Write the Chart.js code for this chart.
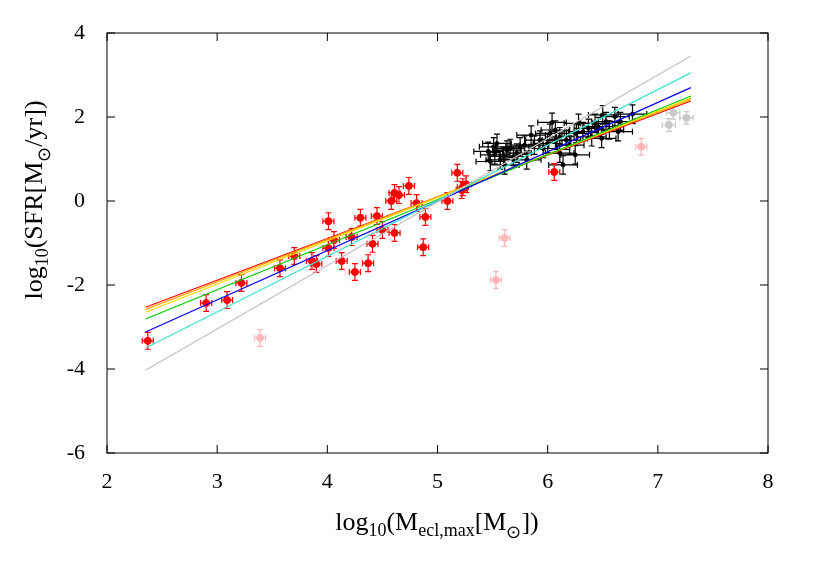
<!DOCTYPE html>
<html>
<head>
<meta charset="utf-8">
<script src="https://cdn.jsdelivr.net/npm/chart.js@4/dist/chart.umd.min.js"></script>
<style>body{margin:0;background:#fff}</style>
</head>
<body>
<canvas id="c" width="817" height="572"></canvas>
<script>
// red clusters (x, y)
const redX = [2.37,2.90,3.09,3.22,3.57,3.70,3.86,3.90,4.01,4.01,4.06,4.13,4.22,4.25,4.30,4.37,4.41,4.45,4.50,4.58,4.61,4.65,4.61,4.74,4.81,4.87,4.89,5.09,5.18,5.22,5.26,5.23,6.06];
const redY = [-3.33,-2.43,-2.36,-1.95,-1.60,-1.31,-1.43,-1.50,-0.48,-1.12,-0.93,-1.43,-0.86,-1.69,-0.40,-1.48,-1.02,-0.36,-0.69,0.00,0.19,0.14,-0.76,0.36,-0.05,-1.10,-0.38,0.00,0.67,0.26,0.40,0.33,0.69];
const pinkX = [3.39,5.61,5.53,6.85];
const pinkY = [-3.26,-0.88,-1.88,1.29];
const grayX = [7.14,7.10,7.26];
const grayY = [2.10,1.81,1.98];
const blackX = [5.46,5.48,5.51,5.52,5.54,5.57,5.60,5.61,5.63,5.66,5.69,5.72,5.75,5.79,5.81,5.85,5.88,5.93,5.96,6.00,6.02,6.04,6.07,6.08,6.11,6.11,6.14,6.17,6.20,6.25,6.26,6.28,6.32,6.37,6.40,6.43,6.46,6.49,6.50,6.53,6.56,6.61,6.64,6.66,6.77];
const blackY = [1.18,0.94,1.29,1.10,1.37,0.98,1.06,0.86,1.21,1.25,1.06,1.14,1.29,1.33,0.98,1.57,1.33,1.45,1.25,1.37,1.61,1.87,1.69,1.45,1.53,1.14,0.86,1.45,1.33,1.10,1.61,1.85,1.65,1.73,1.53,1.85,1.77,1.49,2.05,1.89,1.69,2.01,1.65,1.89,2.07];

// fit lines: [x0, y0, x1, y1]
const fitColors = ['#c0c0c0','#40e0d0','#0000ff','#00cc00','#ffd700','#ffa500','#ff0000'];
const fitY0 = [-4.03,-3.50,-3.12,-2.81,-2.65,-2.58,-2.53];
const fitY1 = [3.45,3.05,2.70,2.50,2.45,2.42,2.38];
const fitX = [2.35,7.30];

const xTicks = [2,3,4,5,6,7,8];
const yTicks = [-6,-4,-2,0,2,4];

function pts(xs, ys){ return xs.map((x,i)=>({x:x,y:ys[i]})); }

const datasets = fitColors.map((c,i)=>({
  type:'line', data:[{x:fitX[0],y:fitY0[i]},{x:fitX[1],y:fitY1[i]}],
  borderColor:c, borderWidth:1.2, pointRadius:0, fill:false
}));
datasets.push({data:pts(grayX,grayY), backgroundColor:'#c8c8c8', borderColor:'#c8c8c8', pointRadius:3.5, xErr:0.06, yErr:0.15});
datasets.push({data:pts(pinkX,pinkY), backgroundColor:'#ffb6b6', borderColor:'#ffb6b6', pointRadius:3.5, xErr:0.05, yErr:0.2});
datasets.push({data:pts(blackX,blackY), backgroundColor:'#000', borderColor:'#000', pointRadius:2, xErr:0.13, yErr:0.22});
datasets.push({data:pts(redX,redY), backgroundColor:'#ff0000', borderColor:'#ff0000', pointRadius:3.5, xErr:0.05, yErr:0.2});

const errorBars = {
  id:'errorBars',
  beforeDatasetsDraw(chart){
    const ctx = chart.ctx, xs = chart.scales.x, ys = chart.scales.y;
    chart.data.datasets.forEach(ds=>{
      if (!ds.xErr) return;
      ctx.save();
      ctx.strokeStyle = ds.borderColor; ctx.lineWidth = 1.2;
      ds.data.forEach(p=>{
        const px = xs.getPixelForValue(p.x), py = ys.getPixelForValue(p.y);
        const l = xs.getPixelForValue(p.x-ds.xErr), r = xs.getPixelForValue(p.x+ds.xErr);
        const t = ys.getPixelForValue(p.y+ds.yErr), b = ys.getPixelForValue(p.y-ds.yErr);
        ctx.beginPath();
        ctx.moveTo(l,py); ctx.lineTo(r,py);
        ctx.moveTo(l,py-3); ctx.lineTo(l,py+3);
        ctx.moveTo(r,py-3); ctx.lineTo(r,py+3);
        ctx.moveTo(px,t); ctx.lineTo(px,b);
        ctx.moveTo(px-3,t); ctx.lineTo(px+3,t);
        ctx.moveTo(px-3,b); ctx.lineTo(px+3,b);
        ctx.stroke();
      });
      ctx.restore();
    });
  }
};

const frame = {
  id:'frame',
  afterDraw(chart){
    const ctx = chart.ctx, a = chart.chartArea, xs = chart.scales.x, ys = chart.scales.y;
    ctx.save();
    ctx.strokeStyle = '#000'; ctx.lineWidth = 1;
    ctx.strokeRect(a.left, a.top, a.right-a.left, a.bottom-a.top);
    ctx.beginPath();
    xTicks.forEach(v=>{
      const p = xs.getPixelForValue(v);
      ctx.moveTo(p,a.bottom); ctx.lineTo(p,a.bottom-8);
      ctx.moveTo(p,a.top); ctx.lineTo(p,a.top+8);
    });
    yTicks.forEach(v=>{
      const p = ys.getPixelForValue(v);
      ctx.moveTo(a.left,p); ctx.lineTo(a.left+8,p);
      ctx.moveTo(a.right,p); ctx.lineTo(a.right-8,p);
    });
    ctx.stroke();
    // axis titles with subscripts
    ctx.fillStyle = '#000';
    ctx.textBaseline = 'alphabetic';
    const big = '26px', small = '18px';
    function fontFor(k){ return (k ? small : big) + ' "Liberation Serif", serif'; }
    function width(parts){
      let w = 0;
      parts.forEach(([s,k])=>{ ctx.font = fontFor(k); w += ctx.measureText(s).width; });
      return w;
    }
    function rich(parts, x, y){
      parts.forEach(([s,k])=>{
        ctx.font = fontFor(k);
        ctx.fillText(s, x, y + (k===1 ? 6 : (k===2 ? 8 : 0)));
        x += ctx.measureText(s).width;
      });
    }
    const xParts = [['log',0],['10',1],['(M',0],['ecl,max',1],['[M',0],['\u2299',2],['])',0]];
    rich(xParts, 437 - width(xParts)/2, 530);
    const yParts = [['log',0],['10',1],['(SFR[M',0],['\u2299',2],['/yr])',0]];
    ctx.translate(42, 200);
    ctx.rotate(-Math.PI/2);
    rich(yParts, -width(yParts)/2, 0);
    ctx.restore();
  }
};

new Chart(document.getElementById('c'), {
  type:'scatter',
  data:{datasets:datasets},
  options:{
    responsive:false, animation:false,
    layout:{padding:{top:33,right:49,left:0,bottom:0}},
    plugins:{legend:{display:false},tooltip:{enabled:false}},
    scales:{
      x:{min:2,max:8,afterBuildTicks:s=>{s.ticks=xTicks.map(v=>({value:v}));},
        afterFit:s=>{s.height=119;},
        grid:{display:false}, border:{display:false},
        ticks:{color:'#000',padding:8,font:{family:'"Liberation Serif", serif',size:22},maxRotation:0}},
      y:{min:-6,max:4,afterBuildTicks:s=>{s.ticks=yTicks.map(v=>({value:v}));},
        afterFit:s=>{s.width=107;},
        grid:{display:false}, border:{display:false},
        ticks:{color:'#000',padding:14,font:{family:'"Liberation Serif", serif',size:22}}}
    }
  },
  plugins:[errorBars, frame]
});
</script>
</body>
</html>
